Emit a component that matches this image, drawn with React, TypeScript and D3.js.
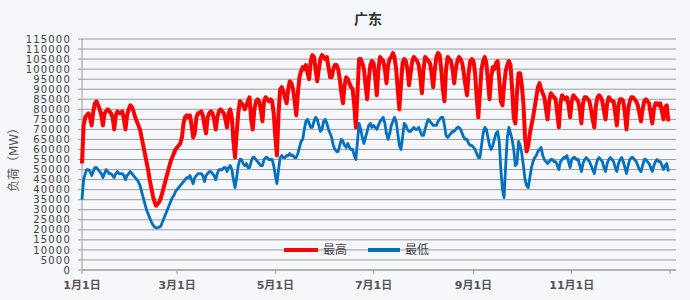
import React from "react";
import * as d3 from "d3";

// Daily loads, thousand MW, 2018-01-01 .. 2018-12-31
const maxLoad: number[] = [
  53,72,76,77,78,76,72, 79,83,84,82,80,77,72, 78,79,80,79,78,76,70, 77,79,78,78,79,75,70,
  77,80,82,81,79,76,74, 72,70,66,62,58,54,50, 45,41,37,34,32,33,34, 36,39,42,45,48,51,54,
  56,58,60,61,62,63,66, 73,76,77,76,77,72,66, 68,76,78,78,79,77,72, 68,76,78,79,78,75,70,
  76,79,80,79,78,75,71, 78,80,76,64,56,68,78, 84,83,82,80,82,84,86, 75,70,80,84,85,84,80,
  74,84,86,85,84,85,84, 78,66,57,78,90,91,89, 86,83,90,94,93,90,84, 77,88,96,99,101,100,102,
  98,95,104,107,106,100,94, 100,105,107,106,105,106,101, 96,96,100,102,102,100,95, 88,83,92,96,95,93,91,
  90,82,71,88,105,105,103, 100,92,85,95,102,104,103, 96,87,100,106,105,104,100, 93,102,105,106,108,106,100,
  90,80,92,103,105,104,100, 92,98,104,106,105,104,102, 96,88,100,106,105,104,103, 98,91,100,106,108,107,100,
  90,84,100,106,105,104,100, 93,100,104,106,105,103,98, 92,87,98,104,105,104,98, 86,76,88,100,104,106,103,
  94,85,96,101,100,103,104, 95,84,82,92,99,102,104, 102,90,76,73,88,98,98, 92,83,66,59,62,68,72,
  76,81,86,91,93,90,88, 86,80,75,84,88,87,86, 85,78,71,83,87,86,85, 86,82,76,84,87,86,85,
  84,80,73,83,86,86,85, 84,80,75,71,82,86,87, 86,84,79,75,83,86,85, 84,84,78,72,82,85,85,
  84,78,70,80,84,86,86, 85,84,82,78,74,80,84, 85,84,83,78,73,80,83, 83,82,83,79,75,81,82,
  74,
];

const minLoad: number[] = [
  35,45,48,50,50,49,47, 49,51,51,50,49,48,46, 48,50,49,48,48,47,46, 48,49,48,48,48,47,45,
  47,48,49,48,47,46,45, 44,42,39,36,33,30,28, 26,24,22.5,21.5,21,21,21.4, 22,24,26,28,30,32,34,
  36,37,39,40,41,42,43, 44,45,46,46,47,45,43, 46,47,48,48,48,47,44, 47,48,49,49,48,47,45,
  48,50,50,50,51,51,49, 51,52,50,45,41,46,52, 55,55,53,52,53,51,51, 54,56,56,55,54,53,52,
  52,55,56,56,55,55,55, 52,47,43,50,56,57,56, 56,57,57,58,57,57,56, 56,58,61,64,65,70,74,
  75,73,71,71,74,76,75, 72,69,70,74,75,73,70, 68,66,62,60,59,59,62, 65,64,62,61,63,61,60,
  60,57,55,64,73,70,66, 63,66,69,72,73,71,72, 71,70,72,74,75,76,73, 68,65,68,72,74,76,74,
  68,62,60,66,73,72,70, 69,69,70,71,70,70,71, 69,67,67,70,73,75,74, 73,72,72,72,74,75,76,
  76,72,67,66,67,68,69, 69,70,71,71,70,68,66, 65,65,63,62,62,61,60, 58,56,56,62,68,71,70,
  66,62,60,62,65,68,69, 64,50,40,36,52,66,71, 68,65,60,52,53,64,62, 58,52,45,42,41,46,51,
  54,56,57,59,60,61,57, 55,54,53,54,55,55,54, 54,52,50,54,55,56,56, 57,54,51,55,56,56,55,
  55,52,49,53,55,56,55, 54,52,50,48,52,55,56, 55,54,51,49,53,55,56, 55,54,51,49,53,55,56,
  54,51,48,52,55,56,56, 55,54,52,50,49,52,55, 55,54,53,51,49,52,54, 55,54,54,52,50,52,53,
  49,
];

const tickDays: number[] = [0, 59, 120, 181, 243, 304, 365];
const tickLabels: string[] = ["1月1日", "3月1日", "5月1日", "7月1日", "9月1日", "11月1日", ""];
const yTicks: number[] = d3.range(0, 115001, 5000);

const seriesNames = ["最高", "最低"];
const colors = ["#ff0000", "#0070c0"];

const W = 690, H = 300;
const left = 82, right = 670, gridRight = 676, top = 39, bottom = 270;

export default function App() {
  const x = d3.scaleLinear().domain([0, 365]).range([left, right]);
  const y = d3.scaleLinear().domain([0, 115000]).range([bottom, top]);
  const line = d3
    .line<number>()
    .x((_, i) => x(i))
    .y((d) => y(d * 1000));

  const font = "'DejaVu Sans', 'Noto Sans CJK SC', sans-serif";

  return (
    <svg
      width={W}
      height={H}
      style={{ position: "absolute", left: 0, top: 0, background: "#f6f7fb" }}
    >
      <rect x={0} y={0} width={W} height={H} fill="#f6f7fb" />
      <text x={368} y={24} textAnchor="middle" fontFamily={font} fontSize={14} fontWeight="bold" fill="#333">
        广东
      </text>
      {/* gridlines */}
      {yTicks.map((t) => (
        <line key={t} x1={left} x2={gridRight} y1={y(t)} y2={y(t)} stroke="#9c9c9c" strokeWidth={1} />
      ))}
      {/* y axis */}
      <line x1={left} x2={left} y1={top} y2={bottom} stroke="#9c9c9c" />
      {yTicks.map((t) => (
        <g key={"yt" + t}>
          <line x1={left - 4} x2={left} y1={y(t)} y2={y(t)} stroke="#9c9c9c" />
          <text x={71} y={y(t)} dy="0.36em" textAnchor="end" fontFamily={font} fontSize={10} letterSpacing={1.2} fill="#404040">
            {t}
          </text>
        </g>
      ))}
      <text
        transform={`translate(18, 157) rotate(-90)`}
        textAnchor="middle"
        fontFamily={font}
        fontSize={12}
        fill="#555"
      >
        负荷（MW）
      </text>
      {/* x axis */}
      <line x1={left} x2={gridRight} y1={bottom} y2={bottom} stroke="#9c9c9c" />
      {tickDays.map((d, i) => (
        <g key={"xt" + d}>
          <line x1={x(d)} x2={x(d)} y1={bottom} y2={bottom + 4} stroke="#9c9c9c" />
          <text x={x(d)} y={289} textAnchor="middle" fontFamily={font} fontSize={11} fontWeight="bold" fill="#555">
            {tickLabels[i]}
          </text>
        </g>
      ))}
      {/* series */}
      <path d={line(maxLoad) || ""} fill="none" stroke={colors[0]} strokeWidth={4} strokeLinejoin="round" />
      <path d={line(minLoad) || ""} fill="none" stroke={colors[1]} strokeWidth={2.8} strokeLinejoin="round" />
      {/* legend */}
      <g fontFamily={font} fontSize={12} fill="#444">
        <line x1={284} x2={318} y1={250} y2={250} stroke={colors[0]} strokeWidth={4} />
        <text x={323} y={250} dy="0.36em">{seriesNames[0]}</text>
        <line x1={368} x2={400} y1={250} y2={250} stroke={colors[1]} strokeWidth={4} />
        <text x={405} y={250} dy="0.36em">{seriesNames[1]}</text>
      </g>
    </svg>
  );
}
